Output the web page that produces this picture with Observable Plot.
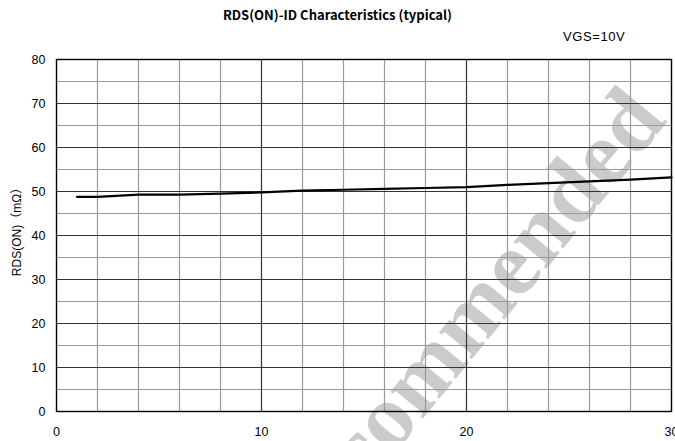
<!DOCTYPE html>
<html>
<head>
<meta charset="utf-8">
<script src="https://cdn.jsdelivr.net/npm/d3@7"></script>
<script src="https://cdn.jsdelivr.net/npm/@observablehq/plot@0.6"></script>
<style>
  html, body { margin: 0; padding: 0; background: #fff; }
  #wrap { position: relative; width: 675px; height: 441px; overflow: hidden; font-family: "Liberation Sans", Arial, sans-serif; }
  #title { position: absolute; top: 5px; left: 0; width: 675px; text-align: center; font-family: "Noto Sans CJK JP", sans-serif; font-weight: bold; font-size: 13px; color: #000; }
  #cond { position: absolute; top: 29px; left: 563px; font-size: 13px; letter-spacing: 0.6px; color: #000; }
  #wm { position: absolute; left: 0; top: 0; }
  #plot { position: absolute; left: 0; top: 48px; }
</style>
</head>
<body>
<div id="wrap">
  <svg id="wm" width="675" height="441">
    <g transform="translate(392,456) rotate(-50.5)" fill="#cbcbcb" font-family="Liberation Serif, serif" font-weight="bold" font-size="92">
      <text text-anchor="end">Not Rec</text>
      <text text-anchor="start">ommended</text>
    </g>
  </svg>
  <div id="title">RDS(ON)-ID Characteristics (typical)</div>
  <div id="cond">VGS=10V</div>
  <div id="plot"></div>
</div>
<script>
// Data (ID in A, RDS(ON) in mΩ)
const idA = [1, 2, 4, 6, 8, 10, 12, 14, 16, 18, 20, 22, 24, 26, 28, 30];
const rdsOn = [48.8, 48.8, 49.3, 49.3, 49.5, 49.8, 50.2, 50.4, 50.6, 50.8, 51.0, 51.5, 51.9, 52.3, 52.7, 53.2];
const xTicks = [0, 10, 20, 30];
const yTicks = [0, 10, 20, 30, 40, 50, 60, 70, 80];
const xMinorGrid = [2, 4, 6, 8, 12, 14, 16, 18, 22, 24, 26, 28];
const xMajorGrid = [10, 20];
const yMinorGrid = [5, 15, 25, 35, 45, 55, 65, 75];
const yMajorGrid = [10, 20, 30, 40, 50, 60, 70];
const yLabel = "RDS(ON)（mΩ）";

const curve = idA.map((x, i) => ({x, y: rdsOn[i]}));

const chart = Plot.plot({
  width: 675,
  height: 393,
  marginLeft: 56,
  marginRight: 4,
  marginTop: 11,
  marginBottom: 30,
  style: {background: "transparent", fontFamily: "Liberation Sans, Arial, sans-serif", fontSize: "12px", color: "#000"},
  x: {domain: [0, 30]},
  y: {domain: [0, 80]},
  marks: [
    Plot.ruleX(xMinorGrid, {stroke: "#9a9a9a", strokeWidth: 1.2}),
    Plot.ruleY(yMinorGrid, {stroke: "#9a9a9a", strokeWidth: 1.2}),
    Plot.ruleX(xMajorGrid, {stroke: "#333", strokeWidth: 1.2}),
    Plot.ruleY(yMajorGrid, {stroke: "#333", strokeWidth: 1.2}),
    Plot.frame({stroke: "#000", strokeWidth: 1.4}),
    Plot.axisX(xTicks, {tickSize: 0, tickPadding: 16, label: null, fontSize: 12.5}),
    Plot.axisY(yTicks, {tickSize: 0, tickPadding: 11, label: null, fontSize: 12.5}),
    Plot.line(curve, {x: "x", y: "y", stroke: "#000", strokeWidth: 2.2})
  ]
});
chart.style.overflow = "hidden";
document.getElementById("plot").appendChild(chart);

// y-axis title
d3.select(chart).append("text")
  .attr("transform", "translate(21,181) rotate(-90)")
  .attr("text-anchor", "middle")
  .attr("font-size", 12)
  .attr("font-family", "Liberation Sans, Noto Sans CJK JP, sans-serif")
  .attr("fill", "#000")
  .text(yLabel);
</script>
</body>
</html>
